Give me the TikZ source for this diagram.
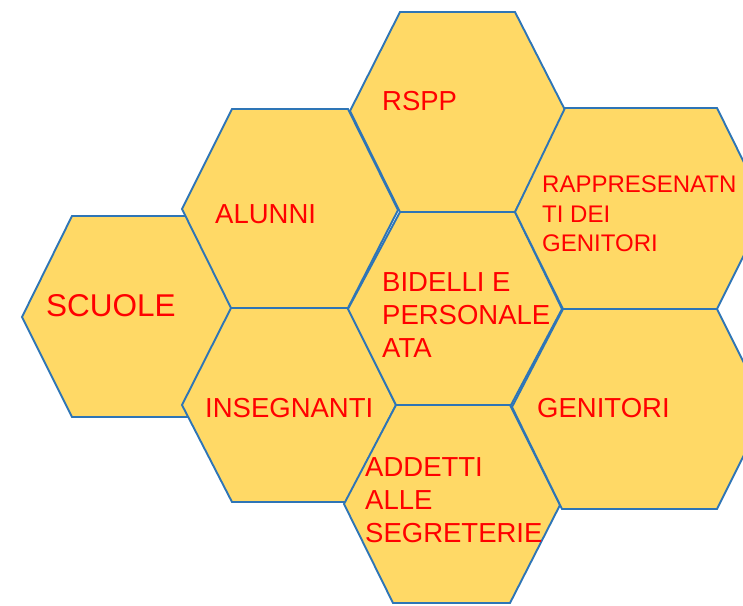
\documentclass[tikz,border=0pt]{standalone}
\usepackage{fontspec}
\setmainfont{Liberation Sans}
\definecolor{hexfill}{HTML}{FFD966}
\definecolor{hexline}{HTML}{2E75B6}
\definecolor{txtred}{HTML}{FF0000}
\tikzset{
  hexa/.style={fill=hexfill,draw=hexline,line width=1.9pt,line join=miter},
  lbl/.style={inner sep=0pt,text=txtred,font=\fontsize{27.5}{33}\selectfont},
  lbls/.style={inner sep=0pt,text=txtred,font=\fontsize{24}{29.2}\selectfont},
}
\begin{document}
\begin{tikzpicture}[x=1pt,y=-1pt]
\clip (0,0) rectangle (743,605);
% SCUOLE
\draw[hexa] (22,317) -- (72,216) -- (188,216) -- (238,317) -- (188,417) -- (72,417) -- cycle;
% ALUNNI
\draw[hexa] (182,209) -- (232,109) -- (348,109) -- (398,210) -- (348,308) -- (231,308) -- cycle;
% INSEGNANTI
\draw[hexa] (182,405) -- (231,308) -- (348,308) -- (396,405) -- (346,502) -- (232,502) -- cycle;
% RSPP
\draw[hexa] (350,111) -- (400,12) -- (515,12) -- (566,112) -- (515,212) -- (400,212) -- cycle;
% BIDELLI
\draw[hexa] (348,309) -- (400,212) -- (515,212) -- (562,309) -- (511,405) -- (396,405) -- cycle;
% ADDETTI
\draw[hexa] (344,504) -- (396,405) -- (510,405) -- (560,505) -- (510,603) -- (393,603) -- cycle;
% RAPPRESENTANTI
\draw[hexa] (515,212) -- (565,108) -- (717,108) -- (767,209) -- (717,309) -- (563,309) -- cycle;
% GENITORI
\draw[hexa] (512,407) -- (563,309) -- (717,309) -- (767,409) -- (717,509) -- (562,509) -- cycle;
% labels
\node[lbl,anchor=base west,font=\fontsize{31.5}{36}\selectfont] (scuole) at (46,316) {SCUOLE};
\node[lbl,anchor=base west] (alunni) at (215,223) {ALUNNI};
\node[lbl,anchor=base west] (insegnanti) at (205,417) {INSEGNANTI};
\node[lbl,anchor=base west] (rspp) at (382,110) {RSPP};
\node[lbl,anchor=base west] (genitori) at (537,417) {GENITORI};
\node[lbl,anchor=north west,align=left] (bidelli) at (382,272) {BIDELLI E\\PERSONALE\\ATA};
\node[lbl,anchor=north west,align=left] (addetti) at (365,457) {ADDETTI\\ALLE\\SEGRETERIE};
\node[lbls,anchor=north west,align=left] (rappr) at (542,176) {RAPPRESENATN\\TI DEI\\GENITORI};
\end{tikzpicture}
\end{document}
